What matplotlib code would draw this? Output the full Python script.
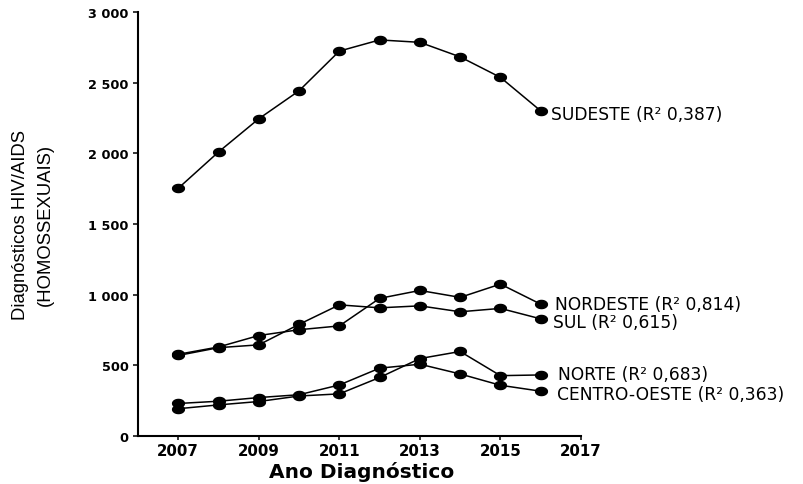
import numpy as np
import matplotlib
matplotlib.use("Agg")
import matplotlib.pyplot as plt
from matplotlib import font_manager
from matplotlib.ticker import FuncFormatter, MultipleLocator

# HIV/AIDS diagnoses (homosexual exposure) per region, 2007-2016
years = list(range(2007, 2017))
sudeste = [1753, 2010, 2245, 2443, 2724, 2803, 2786, 2683, 2538, 2301]
nordeste = [578, 630, 711, 752, 779, 974, 1030, 981, 1075, 933]
sul = [570, 625, 645, 790, 928, 907, 921, 879, 903, 829]
norte = [193, 220, 244, 283, 298, 414, 548, 598, 427, 432]
centro_oeste = [230, 246, 272, 292, 361, 480, 508, 439, 359, 317]

regions = ["SUDESTE", "NORDESTE", "SUL", "NORTE", "CENTRO-OESTE"]
r2 = ["0,387", "0,814", "0,615", "0,683", "0,363"]
series = [sudeste, nordeste, sul, norte, centro_oeste]

# label nudges in pixels (dx, dy)
nudges = [(10, -3), (14, 0), (12, -3), (17, 1), (16, -3)]

installed = {f.name for f in font_manager.fontManager.ttflist}
if "Liberation Sans Narrow" in installed:
    ylab_font, ylab_size, ylab_spacing = "Liberation Sans Narrow", 16, 1.35
else:
    ylab_font, ylab_size, ylab_spacing = "Liberation Sans", 13.3, 1.6

# slightly wide ellipse for the markers
t = np.linspace(0, 2 * np.pi, 40)
ellipse = list(zip(1.45 * np.cos(t), np.sin(t)))

fig = plt.figure(figsize=(8.04, 4.85), dpi=100)
ax = fig.add_axes([0.1716, 0.099, 0.5510, 0.874])

for values, name, r, (dx, dy) in zip(series, regions, r2, nudges):
    ax.plot(years, values, color="black", linewidth=1.1,
            marker=ellipse, markersize=8.5, markerfacecolor="black",
            markeredgecolor="black", clip_on=False)
    ax.annotate(f"{name} (R² {r})", xy=(years[-1], values[-1]),
                xytext=(dx, dy), textcoords="offset pixels",
                ha="left", va="center", fontsize=12.3,
                family="DejaVu Sans", annotation_clip=False)

ax.set_xlim(2006, 2017)
ax.set_ylim(0, 3000)
ax.set_xticks([2007, 2009, 2011, 2013, 2015, 2017])
ax.yaxis.set_major_locator(MultipleLocator(500))
ax.yaxis.set_major_formatter(FuncFormatter(lambda v, p: f"{int(v):,}".replace(",", " ")))

for side in ["top", "right"]:
    ax.spines[side].set_visible(False)
for side in ["left", "bottom"]:
    ax.spines[side].set_linewidth(1.5)

ax.tick_params(axis="x", direction="out", length=3, width=1.1, pad=2)
ax.tick_params(axis="y", direction="out", length=3.6, width=1.1, pad=3)
for lab in ax.get_xticklabels():
    lab.set_fontfamily("DejaVu Sans")
    lab.set_fontweight("bold")
    lab.set_fontsize(10.8)
for lab in ax.get_yticklabels():
    lab.set_fontfamily("DejaVu Sans")
    lab.set_fontweight("bold")
    lab.set_fontsize(9.3)

ax.set_xlabel("Ano Diagnóstico", fontsize=14.5, fontweight="bold", family="DejaVu Sans")
ax.xaxis.set_label_coords(0.505, -0.058)

fig.text(33 / 804, 1 - 225 / 485, "Diagnósticos HIV/AIDS\n(HOMOSSEXUAIS)",
         rotation=90, ha="center", va="center", multialignment="center",
         family=ylab_font, fontsize=ylab_size, linespacing=ylab_spacing)

fig.savefig("out.png", dpi=100)
